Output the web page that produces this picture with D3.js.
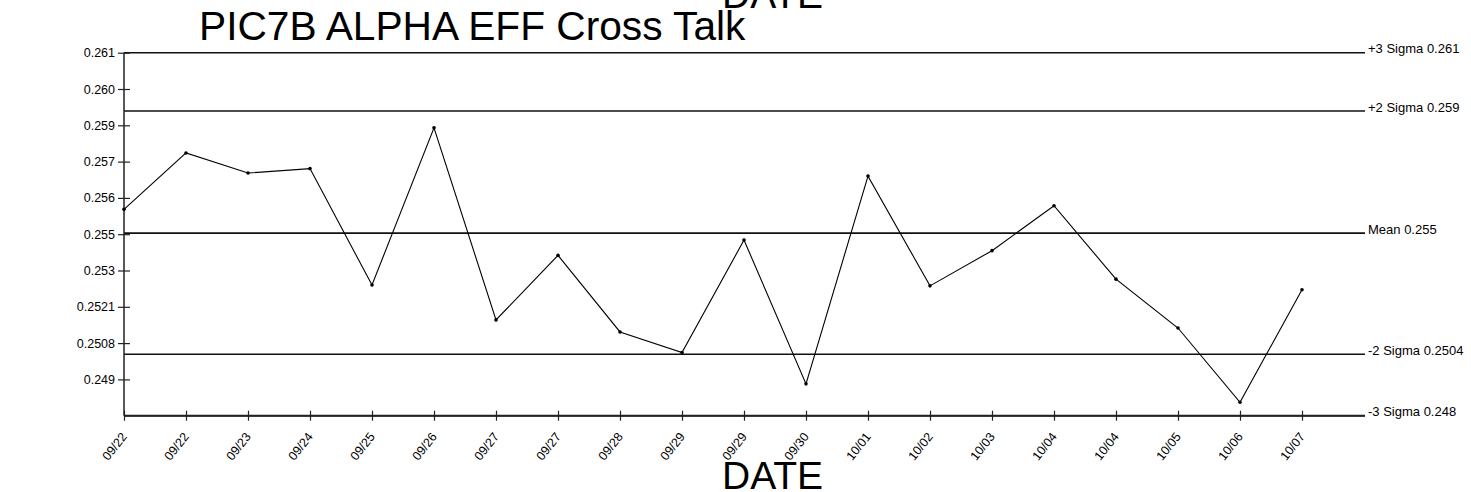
<!DOCTYPE html>
<html>
<head>
<meta charset="utf-8">
<script src="https://cdn.jsdelivr.net/npm/d3@7"></script>
<style>
  html, body { margin: 0; padding: 0; background: #fff; }
  svg { display: block; font-family: "Liberation Sans", Arial, sans-serif; }
</style>
</head>
<body>
<svg id="chart" width="1471" height="492"></svg>
<script>
// ---- data ----
const dates = ["09/22","09/22","09/23","09/24","09/25","09/26","09/27","09/27","09/28","09/29",
               "09/29","09/30","10/01","10/02","10/03","10/04","10/04","10/05","10/06","10/07"];
const values = [0.25539,0.25741,0.25669,0.25685,0.25268,0.25831,0.25143,0.25374,0.25100,0.25026,
                0.25429,0.24914,0.25658,0.25265,0.25391,0.25552,0.25289,0.25114,0.24848,0.25251];
const yTickValues = [0.2493,0.2506,0.2519,0.2532,0.2545,0.2558,0.2571,0.2584,0.2597,0.2610];
const yTickLabels = ["0.249","0.2508","0.2521","0.253","0.255","0.256","0.257","0.259","0.260","0.261"];
const limitValues = [0.2610, 0.25891, 0.25454, 0.25020, 0.2480];
const limitLabels = ["+3 Sigma 0.261","+2 Sigma 0.259","Mean 0.255","-2 Sigma 0.2504","-3 Sigma 0.248"];
const titleText = "PIC7B ALPHA EFF Cross Talk";
const xTitle = "DATE";

// ---- layout ----
const svg = d3.select("#chart");
const mLeft = 124, mRight = 1364, mTop = 52.7, mBottom = 415.7;

const x = d3.scaleLinear().domain([0, 20]).range([mLeft, mRight]);
const y = d3.scaleLinear().domain([0.248, 0.261]).range([mBottom, mTop]);

// title & axis titles
svg.append("text").attr("x", 199).attr("y", 40).attr("font-size", 40.7).attr("fill", "#000").text(titleText);
svg.append("text").attr("x", 722).attr("y", 8).attr("font-size", 39).attr("fill", "#000").text(xTitle);
svg.append("text").attr("x", 722).attr("y", 489).attr("font-size", 39).attr("fill", "#000").text(xTitle);

// limit lines
const lim = svg.append("g");
lim.selectAll("line").data(limitValues).join("line")
  .attr("x1", mLeft).attr("x2", mRight + 1)
  .attr("y1", d => y(d)).attr("y2", d => y(d))
  .attr("stroke", "#111").attr("stroke-width", 1.6);
lim.selectAll("text").data(limitValues).join("text")
  .attr("x", mRight + 4).attr("y", d => y(d) + 0.5)
  .attr("font-size", 13).attr("fill", "#000")
  .text((d, i) => limitLabels[i]);

// y axis
const yAxis = svg.append("g").attr("transform", `translate(${mLeft},0)`)
  .call(d3.axisLeft(y).tickValues(yTickValues).tickSize(6).tickPadding(3)
        .tickFormat((d, i) => yTickLabels[i]));
yAxis.select(".domain").attr("stroke", "#222").attr("stroke-width", 1.5)
  .attr("d", `M0,${mTop}V${mBottom}`);
yAxis.selectAll(".tick line").attr("x1", 6).attr("stroke", "#222").attr("stroke-width", 1.2);
yAxis.selectAll(".tick text").attr("font-size", 12.5).attr("fill", "#000")
  .attr("font-family", "Liberation Sans, Arial, sans-serif").attr("x", -9);

// x axis
const xAxis = svg.append("g").attr("transform", `translate(0,${mBottom})`)
  .call(d3.axisBottom(x).tickValues(d3.range(dates.length)).tickSize(5)
        .tickFormat(i => dates[i]));
xAxis.select(".domain").attr("stroke", "#222").attr("stroke-width", 2)
  .attr("d", `M${mLeft},0H${mRight + 1}`);
xAxis.selectAll(".tick line").attr("y1", -5).attr("stroke", "#222").attr("stroke-width", 1.2);
xAxis.selectAll(".tick text")
  .attr("font-size", 12.5).attr("fill", "#000")
  .attr("font-family", "Liberation Sans, Arial, sans-serif")
  .attr("text-anchor", "end")
  .attr("dy", 0).attr("y", 0)
  .attr("transform", "translate(3,21) rotate(-52)");

// data line & points
const line = d3.line().x((d, i) => x(i)).y(d => y(d));
svg.append("path").datum(values).attr("d", line)
  .attr("fill", "none").attr("stroke", "#000").attr("stroke-width", 1.1);
svg.append("g").selectAll("circle").data(values).join("circle")
  .attr("cx", (d, i) => x(i)).attr("cy", d => y(d)).attr("r", 1.8).attr("fill", "#000");
</script>
</body>
</html>
